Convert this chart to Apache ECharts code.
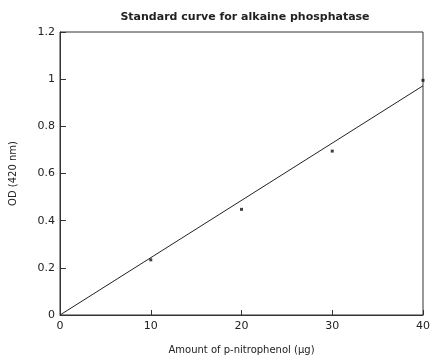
<!DOCTYPE html>
<html>
<head>
<meta charset="utf-8">
<script src="https://cdn.jsdelivr.net/npm/echarts@6/dist/echarts.min.js"></script>
<style>
    html, body { margin: 0; padding: 0; background: #fff; }
    #chart { width: 433px; height: 360px; }
</style>
</head>
<body>
<div id="chart"></div>
<script>
// 测定数据
var amounts = [10, 20, 30, 40];
var odValues = [0.234, 0.448, 0.695, 0.995];
// 拟合直线两端
var fitX = [0, 40];
var fitY = [0, 0.972];

var xTicks = [0, 10, 20, 30, 40];
var yTicks = [0, 0.2, 0.4, 0.6, 0.8, 1, 1.2];

(function(){
    var chart = echarts.init(document.getElementById('chart'));
    var font = 'DejaVu Sans, Verdana, sans-serif';

    var points = amounts.map(function(x, i){
        return [x, odValues[i]];
    });
    var line = fitX.map(function(x, i){
        return [x, fitY[i]];
    });

    var option = {
        backgroundColor: '#fff',
        animation: false,
        title: {
            text: 'Standard curve for alkaine phosphatase',
            left: 240,
            top: 7,
            textAlign: 'center',
            textStyle: {
                fontFamily: font,
                fontSize: 11,
                fontWeight: 'bold',
                color: '#222'
            }
        },
        grid: {
            left: 58,
            right: 9,
            top: 32,
            bottom: 41,
            show: true,
            borderColor: '#333',
            borderWidth: 1
        },
        xAxis: {
            type: 'value',
            min: 0,
            max: 40,
            interval: 10,
            name: 'Amount of p-nitrophenol (\u03bcg)',
            nameLocation: 'middle',
            nameGap: 30,
            nameTextStyle: { fontFamily: font, fontSize: 10, color: '#222' },
            axisLine: { show: true, lineStyle: { color: '#333', width: 1 } },
            axisTick: { show: true, inside: true, length: 5, lineStyle: { color: '#333' } },
            axisLabel: {
                fontFamily: font, fontSize: 11, color: '#222', margin: 6,
                formatter: function(v){ return xTicks.indexOf(v) >= 0 ? String(v) : ''; }
            },
            splitLine: { show: false }
        },
        yAxis: {
            type: 'value',
            min: 0,
            max: 1.2,
            interval: 0.2,
            name: 'OD (420 nm)',
            nameLocation: 'middle',
            nameGap: 42,
            nameRotate: 90,
            nameTextStyle: { fontFamily: font, fontSize: 10, color: '#222' },
            axisLine: { show: true, lineStyle: { color: '#333', width: 1 } },
            axisTick: { show: true, inside: true, length: 6, lineStyle: { color: '#333' } },
            axisLabel: {
                fontFamily: font, fontSize: 11, color: '#222', margin: 5,
                formatter: function(v){
                    var t = yTicks.filter(function(y){ return Math.abs(y - v) < 1e-6; })[0];
                    return t === undefined ? '' : String(t);
                }
            },
            splitLine: { show: false }
        },
        series: [
            {
                name: 'fit',
                type: 'line',
                data: line,
                symbol: 'none',
                lineStyle: { color: '#222', width: 1 }
            },
            {
                name: 'data',
                type: 'scatter',
                data: points,
                symbol: 'rect',
                symbolSize: 3,
                itemStyle: { color: '#111' }
            }
        ]
    };
    chart.setOption(option);
})();
</script>
</body>
</html>
